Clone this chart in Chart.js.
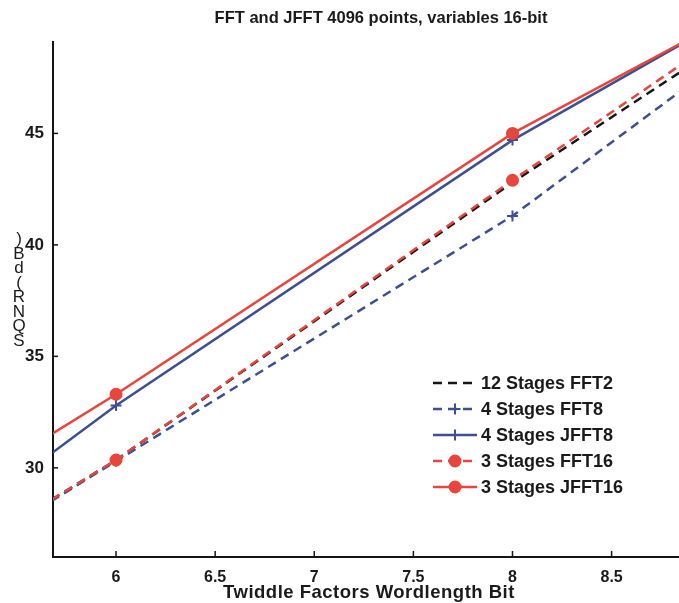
<!DOCTYPE html>
<html>
<head>
<meta charset="utf-8">
<script src="https://cdn.jsdelivr.net/npm/chart.js@4.4.1/dist/chart.umd.min.js"></script>
<style>
  html, body { margin: 0; padding: 0; background: #fff; }
</style>
</head>
<body>
<canvas id="grafica" width="679" height="603"></canvas>
<script>
// wordlength of the twiddle factors (points at 4 and 10 fall outside the visible axis)
const bits = [4, 6, 8, 10];

// SQNR (dB) per configuration
const fft2   = [19.4, 30.35, 42.8, 54.5];
const fft8   = [19.3, 30.3, 41.3, 54.5];
const jfft8  = [19.6, 32.8, 44.7, 54.8];
const fft16  = [19.4, 30.35, 42.9, 55.1];
const jfft16 = [22.3, 33.3, 45.0, 54.5];

const etiquetas = ['12 Stages FFT2', '4 Stages FFT8', '4 Stages JFFT8', '3 Stages FFT16', '3 Stages JFFT16'];
const xTicks = [6, 6.5, 7, 7.5, 8, 8.5];
const yTicks = [30, 35, 40, 45];

const titulo = 'FFT and JFFT 4096 points, variables 16-bit';
const tituloX = 'Twiddle Factors Wordlength Bit';
const tituloY = 'SQNR(dB)';

const FONT = '"Liberation Sans", Arial, Helvetica, sans-serif';
const ROJO = '#e8453c';
const AZUL = '#3c4f93';
const NEGRO = '#151515';

const puntos = (vals) => bits.map((b, i) => ({ x: b, y: vals[i] }));

const serie = (label, vals, color, dash, style, order) => ({
    label: label,
    data: puntos(vals),
    borderColor: color,
    backgroundColor: color,
    borderWidth: 2.5,
    borderDash: dash,
    pointStyle: style || 'circle',
    pointRadius: style ? 5.5 : 0,
    pointBorderWidth: 2,
    pointBackgroundColor: color,
    pointBorderColor: color,
    tension: 0,
    order: order
});

const datasets = [
    serie(etiquetas[0], fft2, NEGRO, [9, 6], null, 4),
    serie(etiquetas[1], fft8, AZUL, [9, 6], 'cross', 3),
    serie(etiquetas[2], jfft8, AZUL, [], 'cross', 2),
    serie(etiquetas[3], fft16, ROJO, [9, 6], 'circle', 1),
    serie(etiquetas[4], jfft16, ROJO, [], 'circle', 0)
];

// texts, inward ticks and the legend inside the plot
const extras = {
    id: 'extras',
    afterDraw(chart) {
        const ctx = chart.ctx;
        const area = chart.chartArea;
        const sx = chart.scales.x, sy = chart.scales.y;

        ctx.save();
        ctx.strokeStyle = NEGRO;
        ctx.lineWidth = 1.5;
        sy.ticks.forEach(t => {
            const py = sy.getPixelForValue(t.value);
            ctx.beginPath(); ctx.moveTo(area.left, py); ctx.lineTo(area.left + 5, py); ctx.stroke();
        });
        sx.ticks.forEach(t => {
            const px = sx.getPixelForValue(t.value);
            ctx.beginPath(); ctx.moveTo(px, area.bottom); ctx.lineTo(px, area.bottom - 6); ctx.stroke();
        });

        ctx.fillStyle = '#1a1a1a';
        ctx.textAlign = 'center';
        ctx.textBaseline = 'middle';
        ctx.font = 'bold 16.5px ' + FONT;
        ctx.fillText(titulo, 381, 18);
        ctx.font = 'bold 18.5px ' + FONT;
        ctx.letterSpacing = '0.5px';
        ctx.fillText(tituloX, 369, 593);
        ctx.letterSpacing = '0px';

        // y title: letters stacked upright, read bottom to top
        ctx.font = '17px ' + FONT;
        const letras = tituloY.split('');
        letras.forEach((c, i) => {
            ctx.fillText(c, 19, 341 - i * 14.5);
        });

        // legend
        datasets.forEach((ds, i) => {
            const y = 383 + i * 26;
            ctx.strokeStyle = ds.borderColor;
            ctx.fillStyle = ds.borderColor;
            ctx.lineWidth = ds.borderWidth;
            ctx.setLineDash(ds.borderDash);
            ctx.beginPath(); ctx.moveTo(433, y); ctx.lineTo(477, y); ctx.stroke();
            ctx.setLineDash([]);
            if (ds.pointRadius > 0) {
                ctx.lineWidth = ds.pointBorderWidth;
                Chart.helpers.drawPoint(ctx, {
                    pointStyle: ds.pointStyle, rotation: 0,
                    radius: ds.pointRadius, borderWidth: ds.pointBorderWidth
                }, 455, y);
            }
            ctx.fillStyle = '#1a1a1a';
            ctx.textAlign = 'left';
            ctx.font = 'bold 18px ' + FONT;
            ctx.fillText(ds.label, 481, y + 1);
        });
        ctx.restore();
    }
};

new Chart(document.querySelector('#grafica'), {
    type: 'line',
    data: { datasets: datasets },
    options: {
        responsive: false,
        animation: false,
        devicePixelRatio: 1,
        layout: { autoPadding: false, padding: { top: 42, right: 0, left: 0, bottom: 0 } },
        plugins: {
            legend: { display: false },
            tooltip: { enabled: false },
            title: { display: false }
        },
        scales: {
            x: {
                type: 'linear',
                min: 5.682,
                max: 8.84,
                afterBuildTicks: (scale) => { scale.ticks = xTicks.map(v => ({ value: v })); },
                afterFit: (scale) => {
                    scale.height = 46;
                    scale.paddingLeft = 0;
                    scale.paddingRight = 0;
                },
                grid: { display: false, drawTicks: false },
                border: { display: true, color: NEGRO, width: 2 },
                ticks: {
                    padding: 11,
                    color: '#1a1a1a',
                    maxRotation: 0,
                    font: { family: FONT, size: 16, weight: 'bold' },
                    callback: (v) => String(v)
                }
            },
            y: {
                type: 'linear',
                min: 26,
                max: 49.1,
                afterBuildTicks: (scale) => { scale.ticks = yTicks.map(v => ({ value: v })); },
                afterFit: (scale) => {
                    scale.width = 53;
                    scale.paddingTop = 0;
                    scale.paddingBottom = 0;
                },
                grid: { display: false, drawTicks: false },
                border: { display: true, color: NEGRO, width: 2 },
                ticks: {
                    padding: 9,
                    color: '#1a1a1a',
                    font: { family: FONT, size: 17, weight: 'bold' },
                    callback: (v) => String(v)
                }
            }
        }
    },
    plugins: [extras]
});
</script>
</body>
</html>
